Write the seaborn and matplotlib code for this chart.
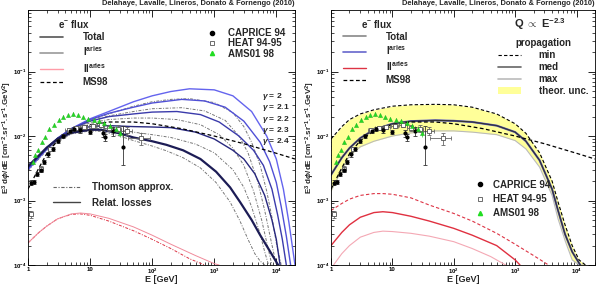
import numpy as np
import matplotlib
matplotlib.use('Agg')
import matplotlib.pyplot as plt
import matplotlib.ticker as mticker
from matplotlib.lines import Line2D
from matplotlib.patches import Patch
import seaborn as sns

sns.set_theme(style='ticks')
plt.rcParams['font.family'] = ['Liberation Sans', 'DejaVu Sans']
plt.rcParams['font.weight'] = 'bold'
plt.rcParams['mathtext.fontset'] = 'custom'
plt.rcParams['mathtext.rm'] = 'Liberation Sans:bold'
plt.rcParams['mathtext.it'] = 'Liberation Sans:bold:italic'
plt.rcParams['mathtext.bf'] = 'Liberation Sans:bold'

# ---------------- data: experiments ----------------
caprice_E = [1.12, 1.25, 1.4, 1.6, 1.8, 2.1, 2.5, 3.0, 3.6, 4.7, 5.5, 7.0, 10, 16, 17.5, 23.5, 34]
caprice_y = [1.9e-3, 1.95e-3, 2.6e-3, 3.0e-3, 4.0e-3, 5.2e-3, 6.3e-3, 8.5e-3, 9.9e-3, 1.2e-2,
             1.28e-2, 1.22e-2, 1.16e-2, 1.1e-2, 9.5e-3, 1.18e-2, 6.7e-3]
caprice_lo = [1.5e-4, 1.5e-4, 2e-4, 2.5e-4, 3e-4, 4e-4, 5e-4, 6e-4, 7e-4, 9e-4,
              1e-3, 1e-3, 1e-3, 1.2e-3, 1.2e-3, 1.8e-3, 3.2e-3]
caprice_hi = [1.5e-4, 1.5e-4, 2e-4, 2.5e-4, 3e-4, 4e-4, 5e-4, 6e-4, 7e-4, 9e-4,
              1e-3, 1e-3, 1e-3, 1.2e-3, 1.2e-3, 1.8e-3, 7.5e-3]

heat_E = [1.1, 1.6, 2.3, 4.5, 6.0, 8.0, 11, 15, 20, 28, 40, 66]
heat_y = [6.2e-4, 3.1e-3, 6.3e-3, 1.25e-2, 1.35e-2, 1.4e-2, 1.45e-2, 1.5e-2, 1.35e-2, 1.3e-2, 1.2e-2, 9.3e-3]
heat_dy = [8e-5, 3e-4, 5e-4, 8e-4, 9e-4, 1e-3, 1.1e-3, 1.3e-3, 1.4e-3, 1.6e-3, 1.8e-3, 2.0e-3]
heat_dx = [0.05, 0.1, 0.2, 0.5, 0.7, 1.0, 1.5, 2, 3, 4, 8, 25]

ams_E = [1.2, 1.3, 1.45, 1.65, 1.9, 2.2, 2.6, 3.1, 3.7, 4.4, 5.3, 6.4, 7.7, 9.3, 11.5, 14, 17, 21, 26, 30]
ams_y = [4.0e-3, 5.0e-3, 6.0e-3, 8.0e-3, 9.5e-3, 1.3e-2, 1.5e-2, 1.8e-2, 2.0e-2, 2.1e-2,
         2.2e-2, 2.1e-2, 1.95e-2, 1.85e-2, 1.8e-2, 1.7e-2, 1.6e-2, 1.45e-2, 1.3e-2, 1.1e-2]
ams_dy = [3e-4, 3e-4, 4e-4, 5e-4, 6e-4, 8e-4, 9e-4, 1.1e-3, 1.2e-3, 1.3e-3,
          1.3e-3, 1.3e-3, 1.2e-3, 1.2e-3, 1.2e-3, 1.2e-3, 1.2e-3, 1.2e-3, 1.3e-3, 1.4e-3]

ms98_E = [1, 1.5, 2, 3, 5, 10, 20, 50, 100, 300, 1000, 3000, 1e4, 2e4]
ms98_y = [1.5e-3, 3.2e-3, 5.3e-3, 8.5e-3, 1.2e-2, 1.5e-2, 1.65e-2, 1.65e-2, 1.55e-2, 1.3e-2,
          1.0e-2, 7.6e-3, 5.4e-3, 4.4e-3]

# ---------------- left panel: injection index scan ----------------
gammas = ['2', '2.1', '2.2', '2.3', '2.4']

rel_E = {
    '2':   [1, 1.5, 2, 3, 5, 10, 20, 50, 100, 200, 400, 1000, 2000, 4000, 7000, 1e4, 1.3e4, 1.6e4, 2e4],
    '2.1': [1, 1.5, 2, 3, 5, 10, 20, 50, 100, 300, 700, 1500, 3000, 5500, 7800, 1e4, 1.2e4, 1.45e4, 1.7e4],
    '2.2': [1, 1.5, 2, 3, 5, 10, 20, 50, 100, 250, 600, 1200, 2500, 4300, 6200, 8500, 1.05e4, 1.25e4, 1.45e4],
    '2.3': [1, 1.5, 2, 3, 5, 10, 20, 50, 100, 200, 500, 1000, 2000, 3000, 4500, 6500, 8500, 1e4, 1.15e4],
    '2.4': [1, 1.5, 2, 3, 5, 10, 15, 30, 50, 100, 170, 316, 600, 1070, 1800, 2600, 4000, 5500, 8000, 1.07e4],
}
rel_y = {
    '2':   [3.0e-3, 4.6e-3, 6.2e-3, 9.0e-3, 1.3e-2, 1.85e-2, 2.4e-2, 3.4e-2, 4.2e-2, 4.9e-2, 5.4e-2,
            5.2e-2, 4.2e-2, 2.4e-2, 1.0e-2, 4.4e-3, 1.5e-3, 4.5e-4, 1.0e-4],
    '2.1': [3.1e-3, 4.7e-3, 6.4e-3, 9.2e-3, 1.3e-2, 1.8e-2, 2.25e-2, 2.8e-2, 3.25e-2, 3.7e-2, 3.5e-2,
            2.8e-2, 1.7e-2, 8.0e-3, 4.0e-3, 1.9e-3, 8.0e-4, 2.8e-4, 1.0e-4],
    '2.2': [3.2e-3, 4.8e-3, 6.5e-3, 9.3e-3, 1.3e-2, 1.7e-2, 2.0e-2, 2.2e-2, 2.35e-2, 2.4e-2, 2.15e-2,
            1.65e-2, 1.0e-2, 6.0e-3, 3.5e-3, 1.5e-3, 6.0e-4, 2.5e-4, 1.0e-4],
    '2.3': [3.3e-3, 4.9e-3, 6.6e-3, 9.2e-3, 1.2e-2, 1.4e-2, 1.45e-2, 1.4e-2, 1.38e-2, 1.35e-2, 1.15e-2,
            9.0e-3, 6.0e-3, 4.4e-3, 2.6e-3, 1.2e-3, 5.0e-4, 2.5e-4, 1.0e-4],
    '2.4': [3.4e-3, 5.0e-3, 6.6e-3, 9.0e-3, 1.12e-2, 1.25e-2, 1.25e-2, 1.1e-2, 9.5e-3, 8.3e-3, 7.3e-3,
            6.0e-3, 4.4e-3, 2.8e-3, 1.6e-3, 9.5e-4, 5.0e-4, 2.9e-4, 1.6e-4, 1.0e-4],
}
thom_E = {
    '2':   [1, 2, 5, 10, 20, 50, 100, 200, 400, 1000, 2000, 3000, 4000, 5500, 7000, 8500, 1e4, 1.2e4],
    '2.1': [1, 2, 5, 10, 20, 50, 100, 300, 700, 1500, 2500, 3500, 5000, 6500, 8000, 1e4],
    '2.2': [1, 2, 5, 10, 20, 50, 100, 250, 600, 1200, 2000, 3000, 4300, 5800, 7200, 8500],
    '2.3': [1, 2, 5, 10, 20, 50, 100, 200, 500, 1000, 2000, 3000, 4000, 5500, 6500, 7500],
    '2.4': [1, 2, 5, 10, 15, 30, 50, 100, 170, 316, 600, 1070, 1800, 2600, 3500, 4500, 5500, 6500],
}
thom_y = {
    '2':   [2.9e-3, 6.0e-3, 1.25e-2, 1.75e-2, 2.2e-2, 2.9e-2, 3.4e-2, 3.7e-2, 3.8e-2, 3.3e-2, 2.3e-2,
            1.4e-2, 8.0e-3, 3.5e-3, 1.4e-3, 5.5e-4, 2.2e-4, 1.0e-4],
    '2.1': [3.0e-3, 6.2e-3, 1.25e-2, 1.7e-2, 2.05e-2, 2.4e-2, 2.65e-2, 2.75e-2, 2.45e-2, 1.75e-2, 1.0e-2,
            5.5e-3, 2.0e-3, 7.0e-4, 2.7e-4, 1.0e-4],
    '2.2': [3.1e-3, 6.3e-3, 1.25e-2, 1.6e-2, 1.8e-2, 1.9e-2, 1.9e-2, 1.8e-2, 1.5e-2, 1.05e-2, 6.5e-3,
            3.5e-3, 1.4e-3, 5.0e-4, 2.0e-4, 1.0e-4],
    '2.3': [3.2e-3, 6.4e-3, 1.15e-2, 1.3e-2, 1.3e-2, 1.15e-2, 1.05e-2, 9.5e-3, 7.5e-3, 5.5e-3, 3.0e-3,
            1.6e-3, 8.0e-4, 3.0e-4, 1.6e-4, 1.0e-4],
    '2.4': [3.3e-3, 6.4e-3, 1.08e-2, 1.2e-2, 1.18e-2, 1.0e-2, 8.5e-3, 7.0e-3, 5.9e-3, 4.6e-3, 3.2e-3,
            1.9e-3, 9.5e-4, 4.8e-4, 2.5e-4, 1.5e-4, 1.15e-4, 1.0e-4],
}
gamma_colors = {'2': '#6464ee', '2.1': '#5050d6', '2.2': '#3b3bab', '2.3': '#28287e', '2.4': '#1c1c55'}

sec_rel_E = [1, 1.5, 2, 3, 5, 7, 10, 20, 50, 100, 200, 500, 1000, 1200]
sec_rel_y = [2.2e-4, 3.2e-4, 4.0e-4, 5.2e-4, 6.2e-4, 6.4e-4, 6.2e-4, 5.3e-4, 3.9e-4, 2.9e-4, 2.1e-4,
             1.4e-4, 1.05e-4, 1.0e-4]
sec_thom_E = [1, 1.5, 2, 3, 5, 7, 10, 20, 50, 100, 200, 400, 700]
sec_thom_y = [2.2e-4, 3.2e-4, 4.0e-4, 5.2e-4, 6.1e-4, 6.2e-4, 5.9e-4, 4.8e-4, 3.4e-4, 2.5e-4, 1.8e-4,
              1.25e-4, 1.0e-4]

# ---------------- right panel: propagation uncertainty ----------------
band_E = [1, 1.5, 2, 3, 5, 10, 20, 50, 100, 200, 500, 1000, 1500, 2500, 4000, 5000, 6500, 8500, 1.1e4, 1.4e4]
band_min = [9.0e-3, 1.4e-2, 1.8e-2, 2.2e-2, 2.55e-2, 2.9e-2, 3.05e-2, 3.1e-2, 3.05e-2, 2.8e-2, 2.2e-2,
            1.55e-2, 1.1e-2, 5.5e-3, 2.0e-3, 9.5e-4, 4.2e-4, 2.0e-4, 1.2e-4, 1.0e-4]
band_max = [1.4e-3, 3.0e-3, 5.0e-3, 6.8e-3, 8.3e-3, 1.0e-2, 1.12e-2, 1.2e-2, 1.2e-2, 1.15e-2, 1.05e-2,
            8.5e-3, 6.3e-3, 3.3e-3, 1.2e-3, 5.2e-4, 2.4e-4, 1.2e-4, 1.0e-4, 1.0e-4]
med_E = [1, 1.5, 2, 3, 5, 10, 20, 50, 100, 200, 500, 1000, 1500, 2500, 4000, 5000, 6500, 8500, 1.15e4]
med_y = [2.5e-3, 4.6e-3, 6.5e-3, 9.3e-3, 1.25e-2, 1.55e-2, 1.7e-2, 1.75e-2, 1.72e-2, 1.65e-2, 1.45e-2,
         1.15e-2, 8.3e-3, 4.2e-3, 1.5e-3, 7.0e-4, 3.0e-4, 1.6e-4, 1.0e-4]

sec_min_E = [1, 1.5, 2, 3, 5, 7, 10, 20, 40, 100, 200, 500, 1000, 2000, 3500]
sec_min_y = [7.0e-4, 9.0e-4, 1.05e-3, 1.2e-3, 1.28e-3, 1.28e-3, 1.25e-3, 1.1e-3, 8.5e-4, 6.3e-4,
             4.8e-4, 3.1e-4, 2.1e-4, 1.4e-4, 1.0e-4]
sec_med_E = [1, 1.5, 2, 3, 5, 7, 10, 20, 40, 100, 200, 500, 1000, 1200]
sec_med_y = [2.0e-4, 3.2e-4, 4.2e-4, 5.5e-4, 6.5e-4, 6.7e-4, 6.5e-4, 5.7e-4, 4.8e-4, 3.7e-4, 2.9e-4,
             2.0e-4, 1.2e-4, 1.0e-4]
sec_max_E = [1.1, 1.5, 2, 3, 5, 7, 10, 20, 40, 100, 200, 400, 700]
sec_max_y = [1.0e-4, 1.5e-4, 2.0e-4, 2.7e-4, 3.2e-4, 3.35e-4, 3.3e-4, 3.1e-4, 2.8e-4, 2.3e-4, 1.8e-4,
             1.35e-4, 1.0e-4]

credit = 'Delahaye, Lavalle, Lineros, Donato & Fornengo (2010)'
dashdot = (0, (3, 1.5, 1, 1.5))
dashed = (0, (3, 2))


def curve(ax, E, y, color, lw=1.0, ls='-'):
    sns.lineplot(x=E, y=y, ax=ax, color=color, lw=lw, linestyle=ls,
                 estimator=None, sort=False, legend=False)


def data_points(ax):
    ax.errorbar(heat_E, heat_y, yerr=heat_dy, xerr=heat_dx, fmt='none', ecolor='#666666',
                elinewidth=0.6, capsize=1.2, capthick=0.6, zorder=5)
    ax.errorbar(caprice_E, caprice_y, yerr=[caprice_lo, caprice_hi], fmt='none', ecolor='#333333',
                elinewidth=0.6, capsize=1.2, capthick=0.6, zorder=5)
    ax.errorbar(ams_E, ams_y, yerr=ams_dy, fmt='none', ecolor='#33cc33', elinewidth=0.5, zorder=5)
    sns.scatterplot(x=heat_E, y=heat_y, ax=ax, marker='s', s=12, facecolor='white',
                    edgecolor='#555555', linewidth=0.6, zorder=6)
    sns.scatterplot(x=caprice_E, y=caprice_y, ax=ax, marker='o', s=9, color='black',
                    edgecolor='black', linewidth=0, zorder=6)
    sns.scatterplot(x=ams_E, y=ams_y, ax=ax, marker='^', s=9, color='#22dd22',
                    edgecolor='#22aa22', linewidth=0.3, zorder=7)


def style_axes(ax, width_px):
    ax.set_xscale('log')
    ax.set_yscale('log')
    ax.set_xlim(1, 2e4)
    ax.set_ylim(1e-4, 0.9)
    ax.set_xticks([1, 10, 100, 1000, 1e4])
    ax.set_xticklabels(['1', '10', r'$10^2$', r'$10^3$', r'$10^4$'])
    ax.xaxis.set_minor_locator(mticker.LogLocator(base=10, subs=np.arange(2, 10), numticks=12))
    ax.yaxis.set_major_locator(mticker.LogLocator(base=10, numticks=10))
    ax.yaxis.set_minor_locator(mticker.LogLocator(base=10, subs=np.arange(2, 10), numticks=12))
    ax.tick_params(which='both', direction='in', top=True, right=True, labelsize=4.3, pad=1.2,
                   colors='black')
    ax.tick_params(which='major', length=5, width=0.6)
    ax.tick_params(which='minor', length=2.5, width=0.5)
    for s in ax.spines.values():
        s.set_linewidth(0.6)
        s.set_color('black')
    ax.set_xlabel('E [GeV]', fontsize=6.5, fontweight='bold', labelpad=-0.5)
    ax.set_ylabel(r'E$^3$ d$\phi$/dE [cm$^{-2}$.sr$^{-1}$.s$^{-1}$.GeV$^2$]', fontsize=5.8,
                  fontweight='bold')
    ax.yaxis.set_label_coords(-14 / width_px, 0.5)
    ax.text(1.0, 1.01, credit, transform=ax.transAxes, ha='right', va='bottom', fontsize=5.4,
            fontweight='bold')


fig = plt.figure(figsize=(6, 2.86), dpi=100)
axL = fig.add_axes([28 / 600, 21 / 286, 267 / 600, 255 / 286])
axR = fig.add_axes([331 / 600, 21 / 286, 264 / 600, 255 / 286])
style_axes(axL, 267)
style_axes(axR, 264)

# ---- left panel ----
for g in gammas:
    curve(axL, thom_E[g], thom_y[g], '#777777', lw=0.7, ls=dashdot)
for g in gammas:
    curve(axL, rel_E[g], rel_y[g], gamma_colors[g], lw=1.6 if g == '2.4' else 1.0)
curve(axL, sec_thom_E, sec_thom_y, '#dd3344', lw=0.7, ls=dashdot)
curve(axL, sec_rel_E, sec_rel_y, '#f08a9a', lw=0.7)
curve(axL, ms98_E, ms98_y, 'black', lw=0.9, ls=dashed)
data_points(axL)

for i, g in enumerate(gammas):
    axL.text(0.875, 0.66 - i * 0.044, r'$\gamma$ = ' + g, transform=axL.transAxes, fontsize=6,
             fontweight='bold', ha='left', va='center')

flux_L = [Line2D([], [], color='#555555', lw=1.2), Line2D([], [], color='#999999', lw=1.2),
          Line2D([], [], color='#ff9ca8', lw=1.0), Line2D([], [], color='black', lw=0.9, ls=dashed)]
lab_flux = ['Total', r'I$^{\rm aries}$', r'II$^{\rm aries}$', 'MS98']
legL1 = axL.legend(flux_L, lab_flux, title=r'e$^{-}$ flux', loc='upper left', bbox_to_anchor=(0.03, 0.985),
                   frameon=False, fontsize=7, title_fontsize=7, handlelength=2.4, handletextpad=2.0,
                   labelspacing=0.25, borderaxespad=0)
legL1.get_title().set_fontweight('bold')
axL.add_artist(legL1)

exp_handles = [Line2D([], [], ls='none', marker='o', ms=3, color='black'),
               Line2D([], [], ls='none', marker='s', ms=3.5, mfc='white', mec='#555555', mew=0.6),
               Line2D([], [], ls='none', marker='^', ms=3, color='#22dd22')]
exp_labels = ['CAPRICE 94', 'HEAT 94-95', 'AMS01 98']
legL2 = axL.legend(exp_handles, exp_labels, loc='upper right', bbox_to_anchor=(0.98, 0.945),
                   frameon=False, fontsize=7, handlelength=1.0, handletextpad=1.2,
                   labelspacing=0.05, borderaxespad=0)
axL.add_artist(legL2)

loss_handles = [Line2D([], [], color='#666666', lw=0.8, ls=dashdot), Line2D([], [], color='#444444', lw=1.0)]
legL3 = axL.legend(loss_handles, ['Thomson approx.', 'Relat. losses'], loc='upper left',
                   bbox_to_anchor=(0.08, 0.34), frameon=False, fontsize=7, handlelength=2.8,
                   handletextpad=1.2, labelspacing=0.55, borderaxespad=0)

# ---- right panel ----
axR.fill_between(band_E, band_max, band_min, color='#ffff99', lw=0, zorder=1)
curve(axR, band_E, band_max, '#bbbbbb', lw=0.8)
curve(axR, med_E, med_y, '#5a5ad0', lw=1.5)
curve(axR, med_E, med_y, '#333333', lw=0.9)
curve(axR, band_E, band_min, 'black', lw=0.8, ls=dashed)
curve(axR, sec_min_E, sec_min_y, '#dd3344', lw=0.8, ls=dashed)
curve(axR, sec_med_E, sec_med_y, '#e03040', lw=1.0)
curve(axR, sec_max_E, sec_max_y, '#f4a8b4', lw=0.8)
curve(axR, ms98_E, ms98_y, 'black', lw=0.9, ls=dashed)
data_points(axR)

flux_R = [Line2D([], [], color='#888888', lw=1.2), Line2D([], [], color='#6666cc', lw=1.2),
          Line2D([], [], color='#dd3344', lw=1.0), Line2D([], [], color='black', lw=0.9, ls=dashed)]
legR1 = axR.legend(flux_R, lab_flux, title=r'e$^{-}$ flux', loc='upper left', bbox_to_anchor=(0.03, 0.985),
                   frameon=False, fontsize=7, title_fontsize=7, handlelength=2.4, handletextpad=2.0,
                   labelspacing=0.2, borderaxespad=0)
legR1.get_title().set_fontweight('bold')
axR.add_artist(legR1)

axR.text(0.79, 0.945, r'Q $\propto$ E$^{-2.3}$', transform=axR.transAxes, ha='center', va='center',
         fontsize=8, fontweight='bold')
prop_handles = [Line2D([], [], color='black', lw=0.8, ls=dashed), Line2D([], [], color='#666666', lw=1.2),
                Line2D([], [], color='#bbbbbb', lw=1.2), Patch(facecolor='#ffff99', edgecolor='none')]
legR2 = axR.legend(prop_handles, ['min', 'med', 'max', 'theor. unc.'], title='propagation',
                   loc='upper right', bbox_to_anchor=(0.99, 0.905), frameon=False, fontsize=7,
                   title_fontsize=7, handlelength=2.4, handletextpad=1.8, labelspacing=0.2,
                   borderaxespad=0)
legR2.get_title().set_fontweight('bold')
axR.add_artist(legR2)

axR.legend(exp_handles, exp_labels, loc='upper left', bbox_to_anchor=(0.53, 0.35), frameon=False,
           fontsize=7, handlelength=1.0, handletextpad=0.9, labelspacing=0.45, borderaxespad=0)

fig.savefig('out.png', dpi=100)
